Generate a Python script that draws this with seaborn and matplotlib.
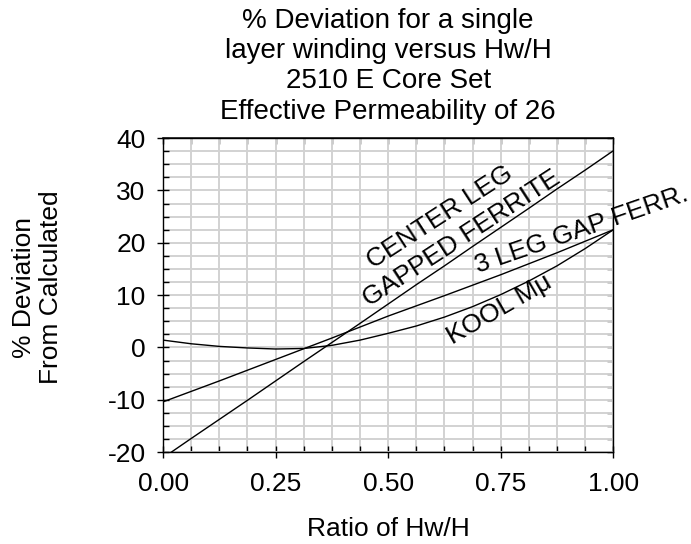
import numpy as np
import pandas as pd
import seaborn as sns
import matplotlib
matplotlib.use("Agg")
from matplotlib import pyplot as plt
from matplotlib.ticker import MultipleLocator, FormatStrFormatter

# values
ratio = [0.0, 0.0625, 0.125, 0.1875, 0.25, 0.3125, 0.375, 0.4375, 0.5,
         0.5625, 0.625, 0.6875, 0.75, 0.8125, 0.875, 0.9375, 1.0]
center_leg = [-21.1, -17.4, -13.75, -10.1, -6.4, -2.7, 0.95, 4.6, 8.3,
              12.0, 15.6, 19.3, 22.95, 26.6, 30.3, 33.9, 37.6]
three_leg = [-10.4, -8.4, -6.4, -4.35, -2.3, -0.25, 1.8, 3.9, 6.0,
             7.95, 9.9, 11.9, 13.9, 16.0, 18.1, 20.3, 22.5]
kool_mu = [1.4, 0.7, 0.2, -0.1, -0.3, -0.2, 0.4, 1.4, 2.7,
           4.1, 5.8, 7.8, 10.1, 12.7, 15.6, 18.9, 22.5]

df = pd.DataFrame({"ratio": ratio * 3,
                   "dev": center_leg + three_leg + kool_mu,
                   "core": ["center"] * len(ratio) + ["three"] * len(ratio) + ["kool"] * len(ratio)})

sns.set_theme(style="ticks")
plt.rcParams['font.family'] = ['Liberation Sans', 'DejaVu Sans']
plt.rcParams['axes.unicode_minus'] = False
plt.rcParams['text.color'] = 'black'
plt.rcParams['axes.labelcolor'] = 'black'
plt.rcParams['xtick.color'] = 'black'
plt.rcParams['ytick.color'] = 'black'

fig = plt.figure(figsize=(6.91, 5.44), dpi=100)
ax = fig.add_axes([0.236, 0.169, 0.6516, 0.577])

sns.lineplot(data=df, x="ratio", y="dev", units="core", estimator=None,
             color="black", linewidth=1.0, ax=ax, zorder=3)

ax.set_xlim(0, 1)
ax.set_ylim(-20, 40)
ax.xaxis.set_major_locator(MultipleLocator(0.25))
ax.xaxis.set_minor_locator(MultipleLocator(0.0625))
ax.yaxis.set_major_locator(MultipleLocator(10))
ax.yaxis.set_minor_locator(MultipleLocator(2.5))
ax.xaxis.set_major_formatter(FormatStrFormatter("%.2f"))
ax.grid(which="both", color="#d2d2d2", linewidth=1.4, zorder=0)
ax.set_axisbelow(True)
ax.tick_params(which="major", direction="inout", length=9, width=1, labelsize=19)
ax.tick_params(axis="x", which="major", pad=10)
ax.tick_params(axis="y", which="major", pad=8)
ax.tick_params(which="minor", direction="in", length=4, width=1)
for s in ax.spines.values():
    s.set_color("black")
    s.set_linewidth(1.0)

# inward ticks on the top and right frame
top = ax.secondary_xaxis("top")
top.xaxis.set_major_locator(MultipleLocator(0.0625))
top.tick_params(direction="in", length=4, width=1, labeltop=False)
right = ax.secondary_yaxis("right")
right.yaxis.set_major_locator(MultipleLocator(2.5))
right.tick_params(direction="in", length=4, width=1, labelright=False)

ax.set_xlabel("Ratio of Hw/H", fontsize=19, labelpad=15)
ax.set_ylabel("% Deviation\nFrom Calculated", fontsize=19, linespacing=1.15)
ax.yaxis.set_label_coords(-0.222, 0.525)
ax.set_title("% Deviation for a single\nlayer winding versus Hw/H\n2510 E Core Set\nEffective Permeability of 26",
             fontsize=20, linespacing=1.22, pad=14)

lab = dict(fontsize=19, ha="center", va="center", rotation_mode="anchor")
ax.text(0.615, 24.9, "CENTER LEG", rotation=33, **lab)
ax.text(0.662, 20.9, "GAPPED FERRITE", rotation=33, **lab)
ax.text(0.93, 22.4, "3 LEG GAP FERR.", rotation=19, **lab)
ax.text(0.748, 7.2, "KOOL M\u03bc", rotation=30, **lab)

fig.savefig("out.png", dpi=100)
